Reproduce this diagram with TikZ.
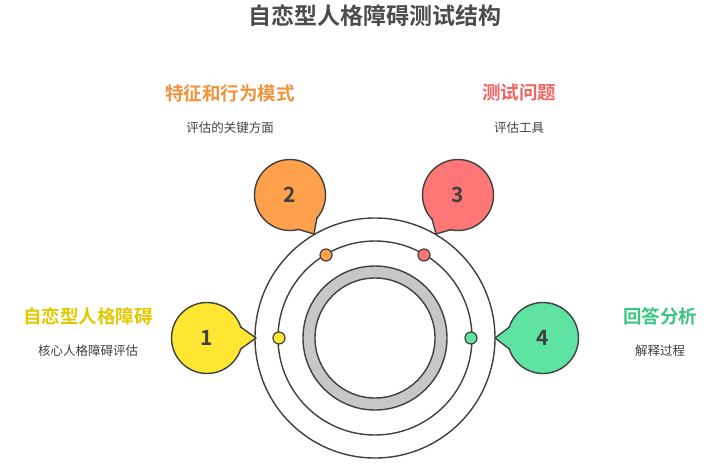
\documentclass[tikz,border=0pt]{standalone}
\usetikzlibrary{calc}
\usepackage{fontspec}
\setmainfont{Noto Sans CJK SC}
\newfontfamily\cjkb{Noto Sans CJK SC Bold}
\begin{document}
\begin{tikzpicture}[x=1pt,y=-1pt,
  ln/.style={draw=black!75,line width=1.4pt},
  num/.style={font=\cjkb\fontsize{21}{21}\selectfont,text=black!75},
  head/.style={font=\cjkb\fontsize{18.5}{19}\selectfont},
  sub/.style={font=\fontsize{12.5}{13}\selectfont,text=black!75}]
\definecolor{cy}{HTML}{FFE633}\definecolor{co}{HTML}{FFA04D}
\definecolor{cr}{HTML}{FF7676}\definecolor{cg}{HTML}{5EE3A3}
\definecolor{ty}{HTML}{E2C800}\definecolor{to}{HTML}{F0923A}
\definecolor{tr}{HTML}{F06464}\definecolor{tg}{HTML}{3CC486}
\useasboundingbox (0,0) rectangle (725,466);
\node[font=\cjkb\fontsize{23}{23}\selectfont,text=black!70] (title) at (375,16) {自恋型人格障碍测试结构};
\coordinate (c) at (375,338);
\draw[ln,fill=white] (c) circle (120);
\draw[ln] (c) circle (97);
\draw[ln,fill=black!22] (c) circle (72);
\draw[ln,fill=white] (c) circle (60);
\foreach \p/\col/\k in {{279,338}/cy/1,{471,338}/cg/4,{326,255}/co/2,{424,255}/cr/3}
  \node[circle,inner sep=0,minimum size=12pt,draw=black!75,line width=1.2pt,fill=\col] (d\k) at (\p) {};
\foreach \cx/\cy/\col/\tx/\ty/\n in {207/338/cy/256/338/1, 290/195/co/314/234/2, 458/195/cr/436/234/3, 543/338/cg/495/338/4}{
  \node[circle,minimum size=71pt,fill=\col,ln,num] (b\n) at (\cx,\cy) {\n};
  \coordinate (t\n) at (\tx,\ty);
  \fill[\col] ($(b\n.center)!33pt!22:(t\n)$) -- (t\n) -- ($(b\n.center)!33pt!-22:(t\n)$) -- cycle;
  \draw[ln,line join=round] ($(b\n.center)!35pt!19:(t\n)$) -- (t\n) -- ($(b\n.center)!35pt!-19:(t\n)$);
}
\node[head,text=ty] (h1) at (88,316) {自恋型人格障碍};
\node[sub] (s1) at (88,351) {核心人格障碍评估};
\node[head,text=to] (h2) at (230,93) {特征和行为模式};
\node[sub] (s2) at (230,128) {评估的关键方面};
\node[head,text=tr] (h3) at (519,93) {测试问题};
\node[sub] (s3) at (519,128) {评估工具};
\node[head,text=tg] (h4) at (660,316) {回答分析};
\node[sub] (s4) at (660,351) {解释过程};
\end{tikzpicture}
\end{document}
